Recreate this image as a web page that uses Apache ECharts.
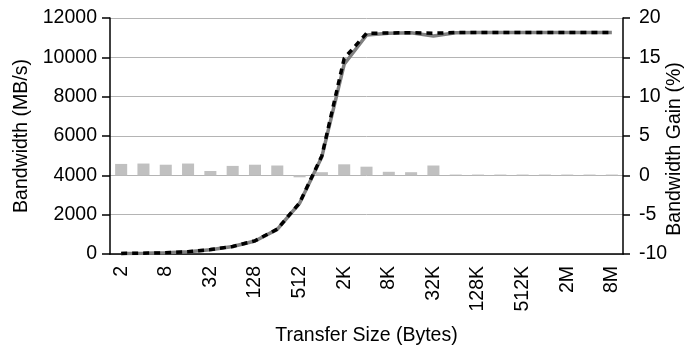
<!DOCTYPE html>
<html>
<head>
<meta charset="utf-8">
<script src="https://cdn.jsdelivr.net/npm/echarts@6/dist/echarts.min.js"></script>
<style>html,body{margin:0;padding:0;background:#fff}#c{width:686px;height:349px}</style>
</head>
<body>
<div id="c"></div>
<script>
var categories = ['2','4','8','16','32','64','128','256','512','1K','2K','4K','8K','16K','32K','64K','128K','256K','512K','1M','2M','4M','8M'];
var baselineBW = [30, 40, 60, 110, 220, 380, 660, 1250, 2580, 4950, 9650, 11130, 11220, 11250, 11080, 11250, 11260, 11260, 11260, 11260, 11260, 11260, 11260];
var improvedBW = [30, 40, 62, 112, 225, 385, 670, 1265, 2600, 5000, 9950, 11220, 11240, 11250, 11230, 11260, 11265, 11265, 11265, 11265, 11265, 11265, 11265];
var gainPct = [1.45, 1.5, 1.35, 1.5, 0.55, 1.2, 1.35, 1.25, -0.25, 0.4, 1.4, 1.1, 0.45, 0.4, 1.25, 0.1, 0.1, 0.1, 0.1, 0.1, 0.1, 0.1, 0.1];
var leftTicks = {min: 0, max: 12000, interval: 2000};
var rightTicks = {min: -10, max: 20, interval: 5};

var font = 'Liberation Sans, Arial, sans-serif';
var fs = 19.5;
var plain = function (v) { return String(v); };
var chart = echarts.init(document.getElementById('c'), null, {renderer: 'canvas'});
chart.setOption({
  animation: false,
  grid: {left: 110, right: 63, top: 18, bottom: 95, containLabel: false, outerBoundsMode: 'none'},
  xAxis: {
    type: 'category',
    data: categories,
    name: 'Transfer Size (Bytes)',
    nameLocation: 'middle',
    nameGap: 72,
    nameMoveOverlap: false,
    nameTextStyle: {fontFamily: font, fontSize: fs, color: '#000'},
    axisLine: {lineStyle: {color: '#000', width: 1.5}},
    axisTick: {interval: 0, length: 6, lineStyle: {color: '#000', width: 1.5}},
    axisLabel: {interval: 1, rotate: 90, margin: 12, fontFamily: font, fontSize: fs, color: '#000'},
    splitLine: {show: false}
  },
  yAxis: [{
    type: 'value',
    min: leftTicks.min, max: leftTicks.max, interval: leftTicks.interval,
    name: 'Bandwidth (MB/s)',
    nameLocation: 'middle',
    nameRotate: 90,
    nameGap: 78,
    nameMoveOverlap: false,
    nameTextStyle: {fontFamily: font, fontSize: fs, color: '#000'},
    axisLine: {show: true, lineStyle: {color: '#000', width: 1.5}},
    axisTick: {show: true, length: 8, lineStyle: {color: '#000', width: 1.5}},
    axisLabel: {margin: 13, fontFamily: font, fontSize: fs, color: '#000', formatter: plain},
    splitLine: {show: true, lineStyle: {color: '#b4b4b4', width: 1}}
  }, {
    type: 'value',
    position: 'right',
    min: rightTicks.min, max: rightTicks.max, interval: rightTicks.interval,
    name: 'Bandwidth Gain (%)',
    nameLocation: 'middle',
    nameRotate: 90,
    nameGap: 42,
    nameMoveOverlap: false,
    nameTextStyle: {fontFamily: font, fontSize: fs, color: '#000', padding: [0, 26, 0, 0]},
    axisLine: {show: true, lineStyle: {color: '#000', width: 1.5}},
    axisTick: {show: true, length: 7, lineStyle: {color: '#000', width: 1.5}},
    axisLabel: {margin: 16, fontFamily: font, fontSize: fs, color: '#000', formatter: plain},
    splitLine: {show: false}
  }],
  series: [{
    type: 'bar',
    yAxisIndex: 1,
    data: gainPct,
    barWidth: '54%',
    itemStyle: {color: '#c0c0c0'},
    z: 1
  }, {
    type: 'line',
    yAxisIndex: 0,
    data: baselineBW,
    symbol: 'none',
    lineStyle: {color: '#808080', width: 3.5, type: 'solid'},
    z: 3
  }, {
    type: 'line',
    yAxisIndex: 0,
    data: improvedBW,
    symbol: 'none',
    lineStyle: {color: '#000', width: 3.5, type: [6, 5]},
    z: 4
  }]
});
</script>
</body>
</html>
